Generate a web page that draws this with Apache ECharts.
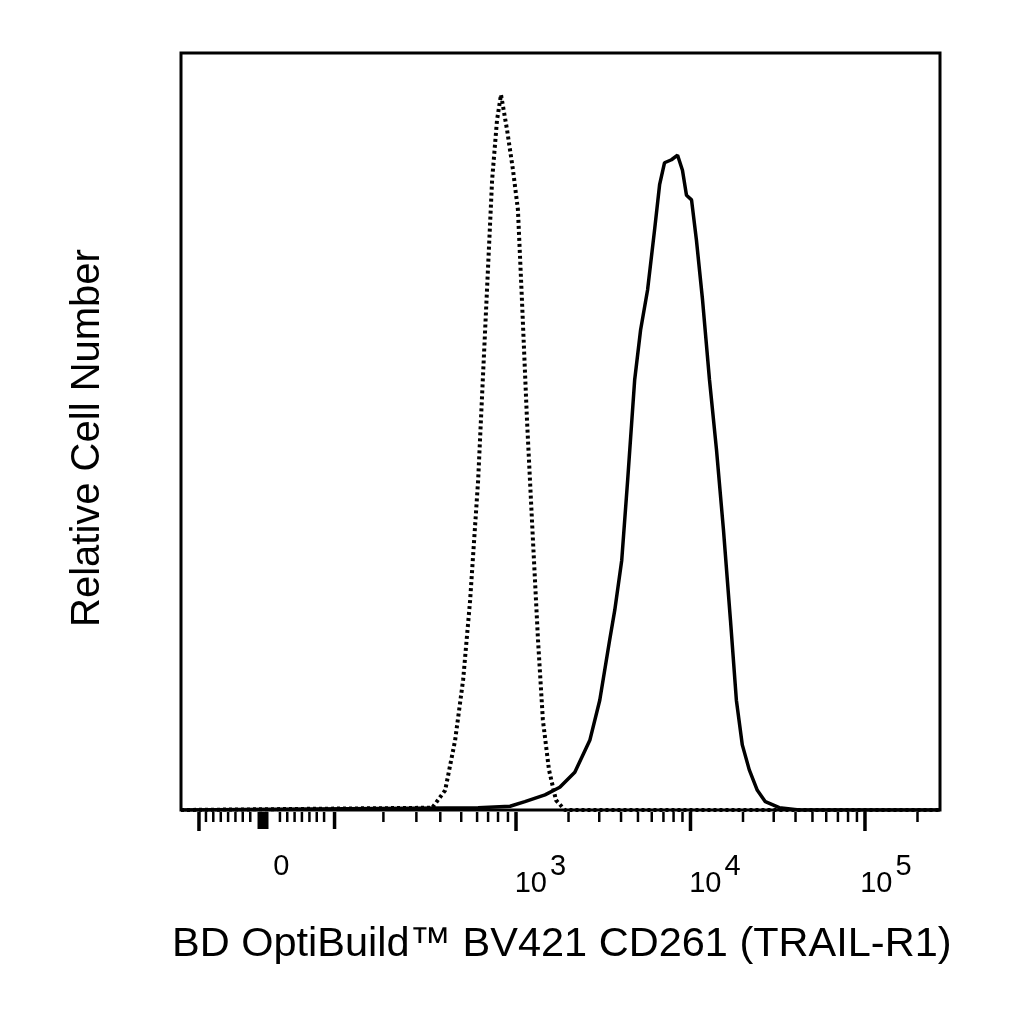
<!DOCTYPE html>
<html>
<head>
<meta charset="utf-8">
<script src="https://cdn.jsdelivr.net/npm/echarts@6/dist/echarts.min.js"></script>
<style>html,body{margin:0;background:#fff}#chart{width:1024px;height:1024px}</style>
</head>
<body>
<div id="chart"></div>
<script>
// x values are in display decades of the biexponential scale (3 = 10^3, 4 = 10^4 ...)
const isotypeX = [1.08, 2.52, 2.594, 2.651, 2.697, 2.737, 2.783, 2.823, 2.863, 2.891, 2.914, 2.949, 2.983, 3.011, 3.034, 3.063, 3.097, 3.126, 3.154, 3.189, 3.229, 3.28, 5.43];
const isotypeY = [0, 0.3, 2.6, 9.2, 17.2, 27.7, 43.6, 63.4, 83.2, 91.1, 94.5, 89.8, 84.5, 79.3, 67.4, 51.5, 35.7, 22.5, 11.9, 5.3, 1.3, 0, 0];
const stainedX = [1.08, 2.783, 2.966, 3.051, 3.166, 3.251, 3.337, 3.423, 3.48, 3.537, 3.566, 3.606, 3.64, 3.68, 3.714, 3.754, 3.794, 3.823, 3.851, 3.891, 3.926, 3.954, 3.977, 4.006, 4.034, 4.069, 4.109, 4.149, 4.189, 4.229, 4.263, 4.297, 4.337, 4.383, 4.429, 4.509, 4.623, 5.43];
const stainedY = [0, 0.3, 0.5, 1.1, 2.0, 3.0, 5.0, 9.2, 14.5, 22.5, 26.4, 33.0, 43.6, 56.8, 63.4, 68.7, 76.6, 82.6, 85.5, 85.9, 86.5, 84.5, 81.2, 80.6, 75.3, 67.4, 56.8, 47.6, 37.0, 25.1, 14.5, 8.6, 5.3, 2.6, 1.1, 0.3, 0, 0];

const majorTicks = [1.183, 3, 4, 5];
const midTicks = [1.96];
const zeroCluster = [1.53, 1.55, 1.57];
const minorTicks = [1.223, 1.265, 1.308, 1.350, 1.392, 1.434, 1.477, 1.647, 1.689, 1.731, 1.773, 1.816, 1.858, 1.900,
  2.24, 2.429, 2.566, 2.686, 2.777, 2.84, 2.897, 2.954,
  3.301, 3.477, 3.602, 3.699, 3.778, 3.845, 3.903, 3.954,
  4.301, 4.477, 4.602, 4.699, 4.778, 4.845, 4.903, 4.954,
  5.301];
const tickLabels = [
  { x: 1.655, base: '0', exp: '' },
  { x: 3.14, base: '10', exp: '3' },
  { x: 4.14, base: '10', exp: '4' },
  { x: 5.12, base: '10', exp: '5' }
];

const ticks = []
  .concat(majorTicks.map(v => [v, 19, 3.5]))
  .concat(midTicks.map(v => [v, 17, 3.5]))
  .concat(zeroCluster.map(v => [v, 17, 4]))
  .concat(minorTicks.map(v => [v, 10, 2.5]));

const chart = echarts.init(document.getElementById('chart'));
chart.setOption({
  animation: false,
  grid: { left: 181, right: 84, top: 53, bottom: 214, show: true, borderColor: '#000', borderWidth: 3 },
  xAxis: { type: 'value', min: 1.08, max: 5.43, show: false },
  yAxis: { type: 'value', min: 0, max: 100, show: false },
  graphic: [
    { type: 'text', x: 172, y: 924, style: { text: 'BD OptiBuild™ BV421 CD261 (TRAIL-R1)', font: '41.5px "Liberation Sans", Arial', fill: '#000' } },
    { type: 'text', x: 68, y: 627, rotation: Math.PI / 2, style: { text: 'Relative Cell Number', font: '40px "Liberation Sans", Arial', fill: '#000' } }
  ],
  series: [
    {
      type: 'line', data: isotypeX.map((x, i) => [x, isotypeY[i]]), showSymbol: false,
      lineStyle: { color: '#000', width: 4, type: [3, 3] }, z: 3
    },
    {
      type: 'line', data: stainedX.map((x, i) => [x, stainedY[i]]), showSymbol: false,
      lineStyle: { color: '#000', width: 3.5 }, z: 4
    },
    {
      type: 'custom', data: ticks, clip: false, silent: true,
      renderItem: (params, api) => {
        const p = api.coord([api.value(0), 0]);
        return { type: 'line', shape: { x1: p[0], y1: p[1] + 2, x2: p[0], y2: p[1] + 2 + api.value(1) },
          style: { stroke: '#000', lineWidth: api.value(2) } };
      }
    },
    {
      type: 'custom', data: tickLabels.map(t => [t.x]), clip: false, silent: true,
      renderItem: (params, api) => {
        const t = tickLabels[params.dataIndex];
        const p = api.coord([api.value(0), 0]);
        return { type: 'text', x: p[0], y: p[1] + 42,
          style: { text: t.exp ? '{b|' + t.base + '}{e|' + t.exp + '}' : '{b|' + t.base + '}',
            align: 'center', verticalAlign: 'top',
            rich: { b: { font: '29px "Liberation Sans", Arial', fill: '#000' },
                    e: { font: '29px "Liberation Sans", Arial', fill: '#000', verticalAlign: 'top', padding: [0, 0, 34, 3] } } } };
      }
    }
  ]
});
</script>
</body>
</html>
